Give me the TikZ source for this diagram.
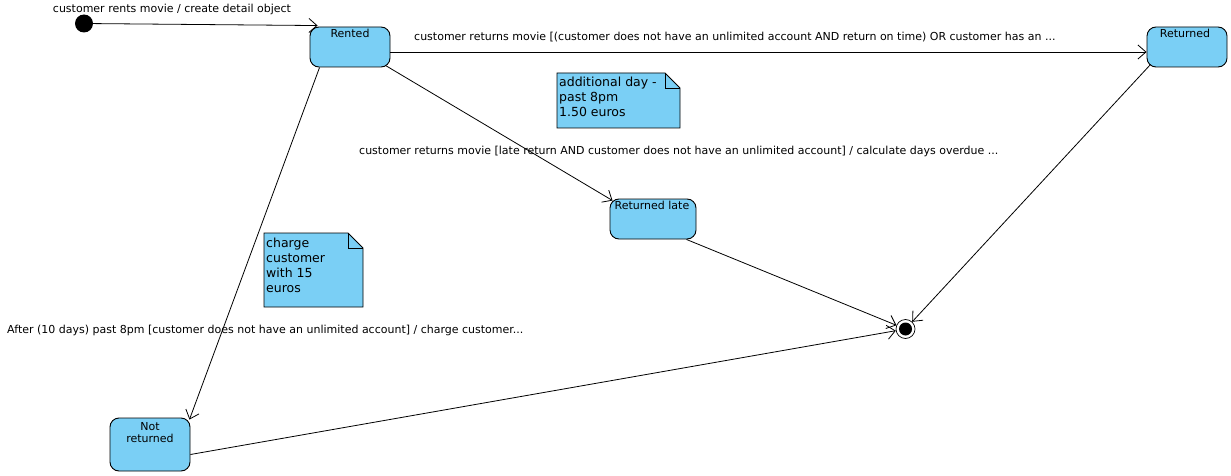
\documentclass[tikz,border=0pt]{standalone}
\usepackage{fontspec}
\setmainfont{DejaVu Sans}
\usetikzlibrary{arrows.meta,shapes.misc}
\definecolor{stfill}{RGB}{122,207,245}
\tikzset{
  st/.style={draw, line width=0.9pt, rounded corners=9pt, fill=stfill, minimum width=80pt, minimum height=40pt, inner sep=0pt},
  stname/.style={font=\fontsize{11}{12.5}\selectfont, inner sep=0pt, anchor=north, align=center},
  lbl/.style={font=\fontsize{11}{13}\selectfont, inner sep=0pt},
  tr/.style={draw, line width=0.8pt, -{Straight Barb[length=8pt,width=14pt,line width=0.8pt]}},
  notebox/.style={fill=stfill, draw, line width=0.8pt},
  notetext/.style={font=\fontsize{12.5}{15}\selectfont, inner sep=0pt, anchor=north west, align=left},
}
\begin{document}
\begin{tikzpicture}[x=1pt,y=-1pt]
\useasboundingbox (0,0) rectangle (1231,476);
\fill[white] (0,0) rectangle (1231,476);

% notes
\draw[notebox] (557,73) -- (665,73) -- (680,88) -- (680,128) -- (557,128) -- cycle;
\draw[line width=0.8pt] (665,73) -- (665,88) -- (680,88);
\node[notetext] (note1) at (559,77) {additional day -\\past 8pm\\1.50 euros};

\draw[notebox] (264,233) -- (348,233) -- (363,248) -- (363,307) -- (264,307) -- cycle;
\draw[line width=0.8pt] (348,233) -- (348,248) -- (363,248);
\node[notetext] (note2) at (266,237.5) {charge\\customer\\with 15\\euros};

% states
\node[circle, fill=black, minimum size=18pt, inner sep=0pt] (init) at (84,23.5) {};
\node[st] (rented) at (350,47) {};
\node[stname] (rentedname) at (350,29) {Rented};
\node[st] (returned) at (1187,47) {};
\node[stname] (returnedname) at (1185,29) {Returned};
\node[st, minimum width=86pt] (retlate) at (653,219) {};
\node[stname] (retlatename) at (652,201) {Returned late};
\node[st, minimum height=53pt] (notret) at (150,444.5) {};
\node[stname] (notretname) at (150,422) {Not\\returned};
\node[circle, draw, line width=0.7pt, fill=white, minimum size=19pt, inner sep=0pt] (final) at (905.5,329) {};
\node[circle, fill=black, minimum size=13pt, inner sep=0pt] (finalin) at (905.5,329) {};

% transitions
\draw[tr] (init) -- ([xshift=8pt,yshift=1pt]rented.north west);
\node[lbl] (l1) at (172,9) {customer rents movie / create detail object};

\draw[tr] ([yshift=-5pt]rented.east) -- ([yshift=-5pt]returned.west);
\node[lbl, anchor=west] (l2) at (414,37) {customer returns movie [(customer does not have an unlimited account AND return on time) OR customer has an ...};

\draw[tr] ([xshift=-5pt,yshift=2pt]rented.south east) -- ([xshift=3pt,yshift=-2pt]retlate.north west);
\node[lbl, anchor=west] (l3) at (359,151) {customer returns movie [late return AND customer does not have an unlimited account] / calculate days overdue ...};

\draw[tr] ([xshift=10pt]rented.south west) -- ([xshift=-1pt,yshift=-2pt]notret.north east);
\node[lbl, anchor=west] (l4) at (7,330) {After (10 days) past 8pm [customer does not have an unlimited account] / charge customer...};

\draw[tr] ([xshift=-10pt]retlate.south east) -- (final);
\draw[tr] ([xshift=4pt,yshift=3pt]returned.south west) -- (final);
\draw[tr] ([yshift=-10pt]notret.east) -- (final);
\end{tikzpicture}
\end{document}
